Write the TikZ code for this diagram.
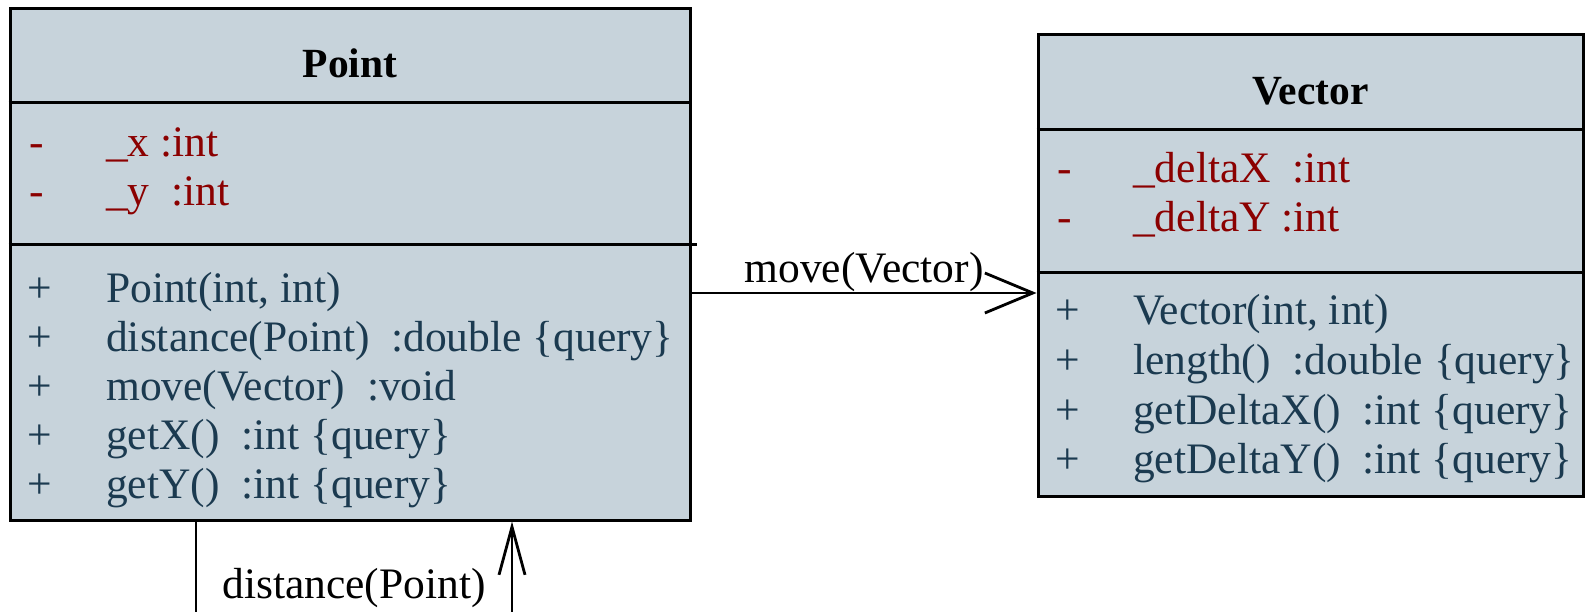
\documentclass[tikz,border=0pt]{standalone}
\usepackage{fontspec}
\setmainfont{Liberation Serif}
\usetikzlibrary{arrows.meta}
\definecolor{boxfill}{HTML}{C7D3DB}
\definecolor{attrred}{HTML}{8B0000}
\definecolor{opcolor}{HTML}{1B3A50}
\tikzset{
  classbox/.style={draw=black, fill=boxfill, line width=3pt, inner sep=0pt},
  seprule/.style={line width=3pt},
  msg/.style={line width=2.8pt},
  titletext/.style={anchor=base, inner sep=0pt, font=\fontsize{41.5}{41.5}\selectfont\bfseries},
  attrtext/.style={anchor=base west, inner sep=0pt, text=attrred, font=\fontsize{43.5}{43.5}\selectfont},
  optext/.style={anchor=base west, inner sep=0pt, text=opcolor, font=\fontsize{43.5}{43.5}\selectfont},
  lbltext/.style={anchor=base, inner sep=0pt, font=\fontsize{43.5}{43.5}\selectfont},
  barbH/.style={-{Straight Barb[length=48pt,width=40pt]}},
  barbV/.style={-{Straight Barb[length=48pt,width=26pt]}}
}
\begin{document}
\begin{tikzpicture}[x=1pt,y=-1pt]
\useasboundingbox (0,0) rectangle (1589,612);
% Point class
\node[classbox, minimum width=680pt, minimum height=511pt] (point) at (350,264.5) {};
\draw[seprule] (point.west |- 0,103) -- (point.east |- 0,103);
\draw[seprule] (point.west |- 0,245) -- ([xshift=5pt]point.east |- 0,245);
\node[titletext] (ptitle) at (350,78) {Point};
\node[attrtext] (pa1v) at (29,157) {-};
\node[attrtext] (pa1) at (106,157) {\_x :int};
\node[attrtext] (pa2v) at (29,206) {-};
\node[attrtext] (pa2) at (106,206) {\_y~ :int};
\node[optext] (po1v) at (27,302) {+};
\node[optext] (po1) at (106,302) {Point(int, int)};
\node[optext] (po2v) at (27,351) {+};
\node[optext] (po2) at (106,351) {distance(Point)~ :double \{query\}};
\node[optext] (po3v) at (27,400) {+};
\node[optext] (po3) at (106,400) {move(Vector)~ :void};
\node[optext] (po4v) at (27,449) {+};
\node[optext] (po4) at (106,449) {getX()~ :int \{query\}};
\node[optext] (po5v) at (27,498) {+};
\node[optext] (po5) at (106,498) {getY()~ :int \{query\}};
% Vector class
\node[classbox, minimum width=545pt, minimum height=461pt] (vector) at (1310.5,265.5) {};
\draw[seprule] (vector.west |- 0,130) -- (vector.east |- 0,130);
\draw[seprule] (vector.west |- 0,272) -- (vector.east |- 0,272);
\node[titletext] (vtitle) at (1310.5,105) {Vector};
\node[attrtext] (va1v) at (1057,183) {-};
\node[attrtext] (va1) at (1133,183) {\_deltaX~ :int};
\node[attrtext] (va2v) at (1057,232) {-};
\node[attrtext] (va2) at (1133,232) {\_deltaY :int};
\node[optext] (vo1v) at (1055,324) {+};
\node[optext] (vo1) at (1133,324) {Vector(int, int)};
\node[optext] (vo2v) at (1055,374) {+};
\node[optext] (vo2) at (1133,374) {length()~ :double \{query\}};
\node[optext] (vo3v) at (1055,424) {+};
\node[optext] (vo3) at (1133,424) {getDeltaX()~ :int \{query\}};
\node[optext] (vo4v) at (1055,473) {+};
\node[optext] (vo4) at (1133,473) {getDeltaY()~ :int \{query\}};
% move message
\coordinate (mvy) at (0,293);
\draw[msg, barbH] (point.east |- mvy) -- (vector.west |- mvy)
  node[lbltext, midway, yshift=11pt] (mvlbl) {move(Vector)};
% distance self message
\coordinate (dl) at (196,612);
\coordinate (dr) at (512,612);
\draw[msg] (point.south -| dl) -- (dl);
\draw[msg, barbV] (dr) -- (point.south -| dr);
\node[lbltext] (dlbl) at (354,598) {distance(Point)};
\end{tikzpicture}
\end{document}
